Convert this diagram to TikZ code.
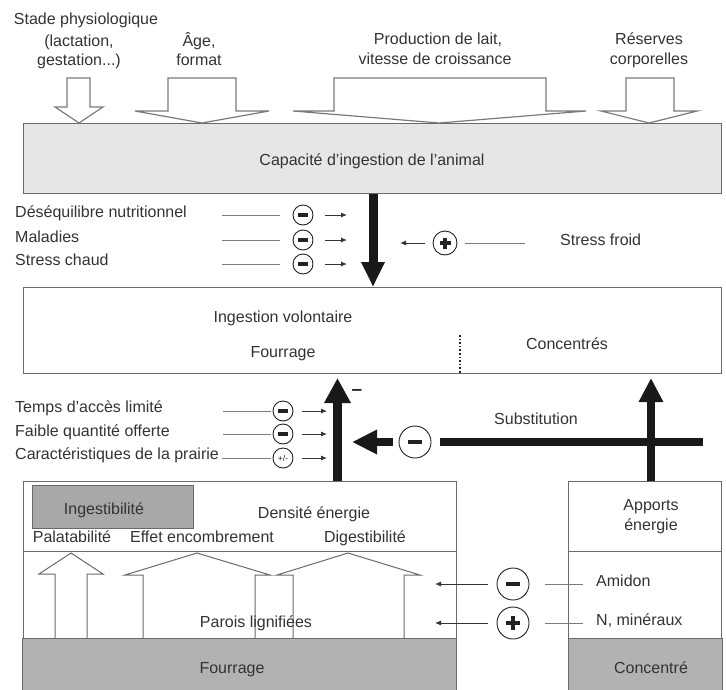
\documentclass[tikz,border=0pt]{standalone}
\usepackage{fontspec}
\setmainfont{Liberation Sans}
\usetikzlibrary{arrows.meta,calc}
\definecolor{txtc}{HTML}{333333}
\definecolor{edgec}{HTML}{6A6A6A}
\definecolor{capfill}{HTML}{E6E6E6}
\definecolor{darkfill}{HTML}{A8A8A8}
\definecolor{grayfill}{HTML}{B2B2B2}
\definecolor{thinc}{HTML}{7A7A7A}
\definecolor{symc}{HTML}{222222}
\begin{document}
\begin{tikzpicture}[x=1pt,y=-1pt,
  every node/.style={text=txtc, font=\fontsize{16}{19}\selectfont},
  txt/.style={inner sep=0pt, anchor=mid},
  txtl/.style={inner sep=0pt, anchor=mid west},
  box/.style={draw=edgec, line width=1pt, anchor=north west, inner sep=0pt},
  hollow/.style={draw=thinc, line width=1.2pt, fill=white, line join=miter},
  openarrow/.style={draw=edgec, line width=1pt, line join=miter},
  bigarrow/.style={line width=9pt, draw=black!90, -{Triangle[length=25pt,width=22pt]}},
  thinline/.style={draw=thinc, line width=0.9pt},
  thinarrow/.style={thinline, -{Latex[length=6pt,width=5pt]}, draw=black!80},
  symminus/.style n args={3}{circle, draw=symc, line width=0.9pt, minimum size=#1, inner sep=0pt,
    path picture={\fill[symc] ([xshift=-#2,yshift=-#3]path picture bounding box.center) rectangle ([xshift=#2,yshift=#3]path picture bounding box.center);}},
  symplus/.style n args={3}{circle, draw=symc, line width=0.9pt, minimum size=#1, inner sep=0pt,
    path picture={\fill[symc] ([xshift=-#2,yshift=-#3]path picture bounding box.center) rectangle ([xshift=#2,yshift=#3]path picture bounding box.center);
      \fill[symc] ([xshift=-#3,yshift=-#2]path picture bounding box.center) rectangle ([xshift=#3,yshift=#2]path picture bounding box.center);}},
]
\useasboundingbox (0,0) rectangle (726,689);

% ---------- boxes ----------
\node[box, fill=capfill, minimum width=698pt, minimum height=70pt] (cap) at (23,123) {};
\node[box, minimum width=698pt, minimum height=86pt] (iv) at (23,287) {};
\node[box, fill=grayfill, minimum width=434pt, minimum height=54pt] (fgray) at (22,638) {};
\node[box, fill=grayfill, minimum width=154pt, minimum height=54pt] (cgray) at (568,638) {};
\node[box, minimum width=433pt, minimum height=157pt] (lbox) at (23,481) {};
\node[box, minimum width=153pt, minimum height=157pt] (rbox) at (568,481) {};
\node[box, fill=darkfill, minimum width=161pt, minimum height=43pt] (ingbox) at (32,485) {};
\draw[draw=edgec, line width=1pt] (lbox.north west) ++(0,70) -- ++(433,0);
\draw[draw=edgec, line width=1pt] (rbox.north west) ++(0,70) -- ++(153,0);

% ---------- top hollow arrows ----------
\draw[hollow] (67,78) -- (90,78) -- (90,107) -- (103,107) -- (79,123) -- (55,107) -- (67,107) -- cycle;
\draw[hollow] (168,78) -- (236,78) -- (236,111) -- (269,111) -- (202,123) -- (135,111) -- (168,111) -- cycle;
\draw[hollow] (334,78) -- (546,78) -- (546,111) -- (586,111) -- (439,123) -- (293,111) -- (334,111) -- cycle;
\draw[hollow] (626,78) -- (674,78) -- (674,111) -- (697,111) -- (649,123) -- (601,111) -- (626,111) -- cycle;

% ---------- top texts ----------
\node[txt] (t1a) at (86,22) {Stade physiologique};
\node[txt] (t1b) at (79,44) {(lactation,};
\node[txt] (t1c) at (79,63) {gestation...)};
\node[txt] (t2a) at (199,44) {Âge,};
\node[txt] (t2b) at (199,63) {format};
\node[txt] (t3a) at (438,42) {Production de lait,};
\node[txt] (t3b) at (435,62) {vitesse de croissance};
\node[txt] (t4a) at (649,42) {Réserves};
\node[txt] (t4b) at (649,62) {corporelles};
\node[txt] (captxt) at (372,163) {Capacité d'ingestion de l'animal};

% ---------- middle: down arrow ----------
\coordinate (dn) at (373,287);
\draw[bigarrow] (cap.south -| dn) -- (dn);

\node[txtl] (l1) at (15,215) {Déséquilibre nutritionnel};
\node[txtl] (l2) at (15,240) {Maladies};
\node[txtl] (l3) at (15,263) {Stress chaud};
\node[symminus={20pt}{5pt}{1.8pt}] (c1) at (303,215) {};
\node[symminus={20pt}{5pt}{1.8pt}] (c2) at (303,240) {};
\node[symminus={20pt}{5pt}{1.8pt}] (c3) at (303,264) {};
\coordinate (s1) at (222,215); \coordinate (e1) at (347,215);
\coordinate (s2) at (222,240); \coordinate (e2) at (347,240);
\coordinate (s3) at (222,264); \coordinate (e3) at (347,264);
\foreach \i in {1,2,3}{
  \draw[thinline, shorten >=13pt] (s\i) -- (c\i);
  \draw[thinarrow, shorten <=12pt] (c\i) -- (e\i);
}

\node[symplus={24pt}{5.5pt}{1.6pt}] (cf) at (445,243) {};
\coordinate (cfe) at (400,243); \coordinate (cfs) at (525,243);
\draw[thinarrow, shorten <=8pt] (cf) -- (cfe);
\draw[thinline, shorten <=8pt] (cf) -- (cfs);
\node[txtl] (froid) at (560,243) {Stress froid};

% ---------- ingestion volontaire ----------
\node[txt] (ivt) at (283,320) {Ingestion volontaire};
\node[txt] (ivf) at (283,355) {Fourrage};
\node[txt] (ivc) at (567,347) {Concentrés};
\coordinate (dotT) at (460,335);
\draw[line width=1.6pt, dotted, black!85] (dotT) -- (dotT |- iv.south);

% ---------- up arrows and substitution ----------
\coordinate (upl) at (337.5,378);
\draw[bigarrow, -{Triangle[length=25pt,width=25pt]}] (lbox.north -| upl) -- (upl);
\node[inner sep=0pt, anchor=base, font=\fontsize{19}{20}\selectfont\bfseries, text=black!85] (minus) at (357,395) {–};
\coordinate (upr) at (651,378);
\draw[bigarrow, line width=8pt, -{Triangle[length=24pt,width=23pt]}] (rbox.north -| upr) -- (upr);

\node[symminus={32pt}{7pt}{2pt}] (subc) at (415,442) {};
\coordinate (subR) at (703,442);
\coordinate (subtip) at (352,442);
\draw[line width=8pt, black!90] (subR) -- ([xshift=9pt]subc.east);
\draw[line width=8pt, black!90, -{Triangle[length=25pt,width=23pt]}] ([xshift=-6pt]subc.west) -- (subtip);
\node[txt] (subt) at (536,422) {Substitution};

\node[txtl] (m1) at (15,410) {Temps d'accès limité};
\node[txtl] (m2) at (15,434) {Faible quantité offerte};
\node[txtl] (m3) at (15,457) {Caractéristiques de la prairie};
\node[symminus={20pt}{5pt}{1.8pt}] (d1) at (283,411) {};
\node[symminus={20pt}{5pt}{1.8pt}] (d2) at (283,434) {};
\node[circle, draw=symc, line width=0.9pt, minimum size=20pt, inner sep=0pt, font=\fontsize{8.5}{9}\selectfont, text=symc] (d3) at (283,458) {+/-};
\coordinate (ms1) at (223,411); \coordinate (me1) at (327,411);
\coordinate (ms2) at (223,434); \coordinate (me2) at (327,434);
\coordinate (ms3) at (222,458); \coordinate (me3) at (327,458);
\foreach \i in {1,2,3}{
  \draw[thinline, shorten >=2pt] (ms\i) -- (d\i);
  \draw[thinarrow, shorten <=9pt] (d\i) -- (me\i);
}

% ---------- bottom left box ----------
\node[txt] (ingt) at (104,512) {Ingestibilité};
\node[txt] (dens) at (314,516) {Densité énergie};
\node[txt] (pal) at (72,540) {Palatabilité};
\node[txt] (eff) at (202,540) {Effet encombrement};
\node[txt] (dig) at (365,540) {Digestibilité};
\draw[openarrow] (55,638) -- (55,574) -- (39,574) -- (71,553) -- (103,574) -- (87,574) -- (87,638);
\draw[openarrow] (143,638) -- (143,575) -- (125,575) -- (197,553) -- (270,575) -- (255,575) -- (255,638);
\draw[openarrow] (293,638) -- (293,575) -- (277,575) -- (348,553) -- (420,575) -- (404,575) -- (404,638);
\node[txt] (par) at (256,625) {Parois lignifiées};
\node[txt] (four) at (232,671) {Fourrage};

% ---------- bottom right box ----------
\node[txt] (app1) at (651,508) {Apports};
\node[txt] (app2) at (651,528) {énergie};
\node[txt] (conc) at (651,671) {Concentré};

\node[symminus={32pt}{7pt}{2pt}] (am) at (513,584) {};
\node[symplus={32pt}{7pt}{2pt}] (nm) at (513,623) {};
\coordinate (amE) at (435,584); \coordinate (amS) at (583,584);
\coordinate (nmE) at (435,623); \coordinate (nmS) at (583,623);
\draw[thinarrow, shorten <=9pt] (am) -- (amE);
\draw[thinline, shorten <=16pt] (am) -- (amS);
\draw[thinarrow, shorten <=9pt] (nm) -- (nmE);
\draw[thinline, shorten <=16pt] (nm) -- (nmS);
\node[txtl] (amt) at (596,584) {Amidon};
\node[txtl] (nmt) at (596,623) {N, minéraux};
\end{tikzpicture}
\end{document}
